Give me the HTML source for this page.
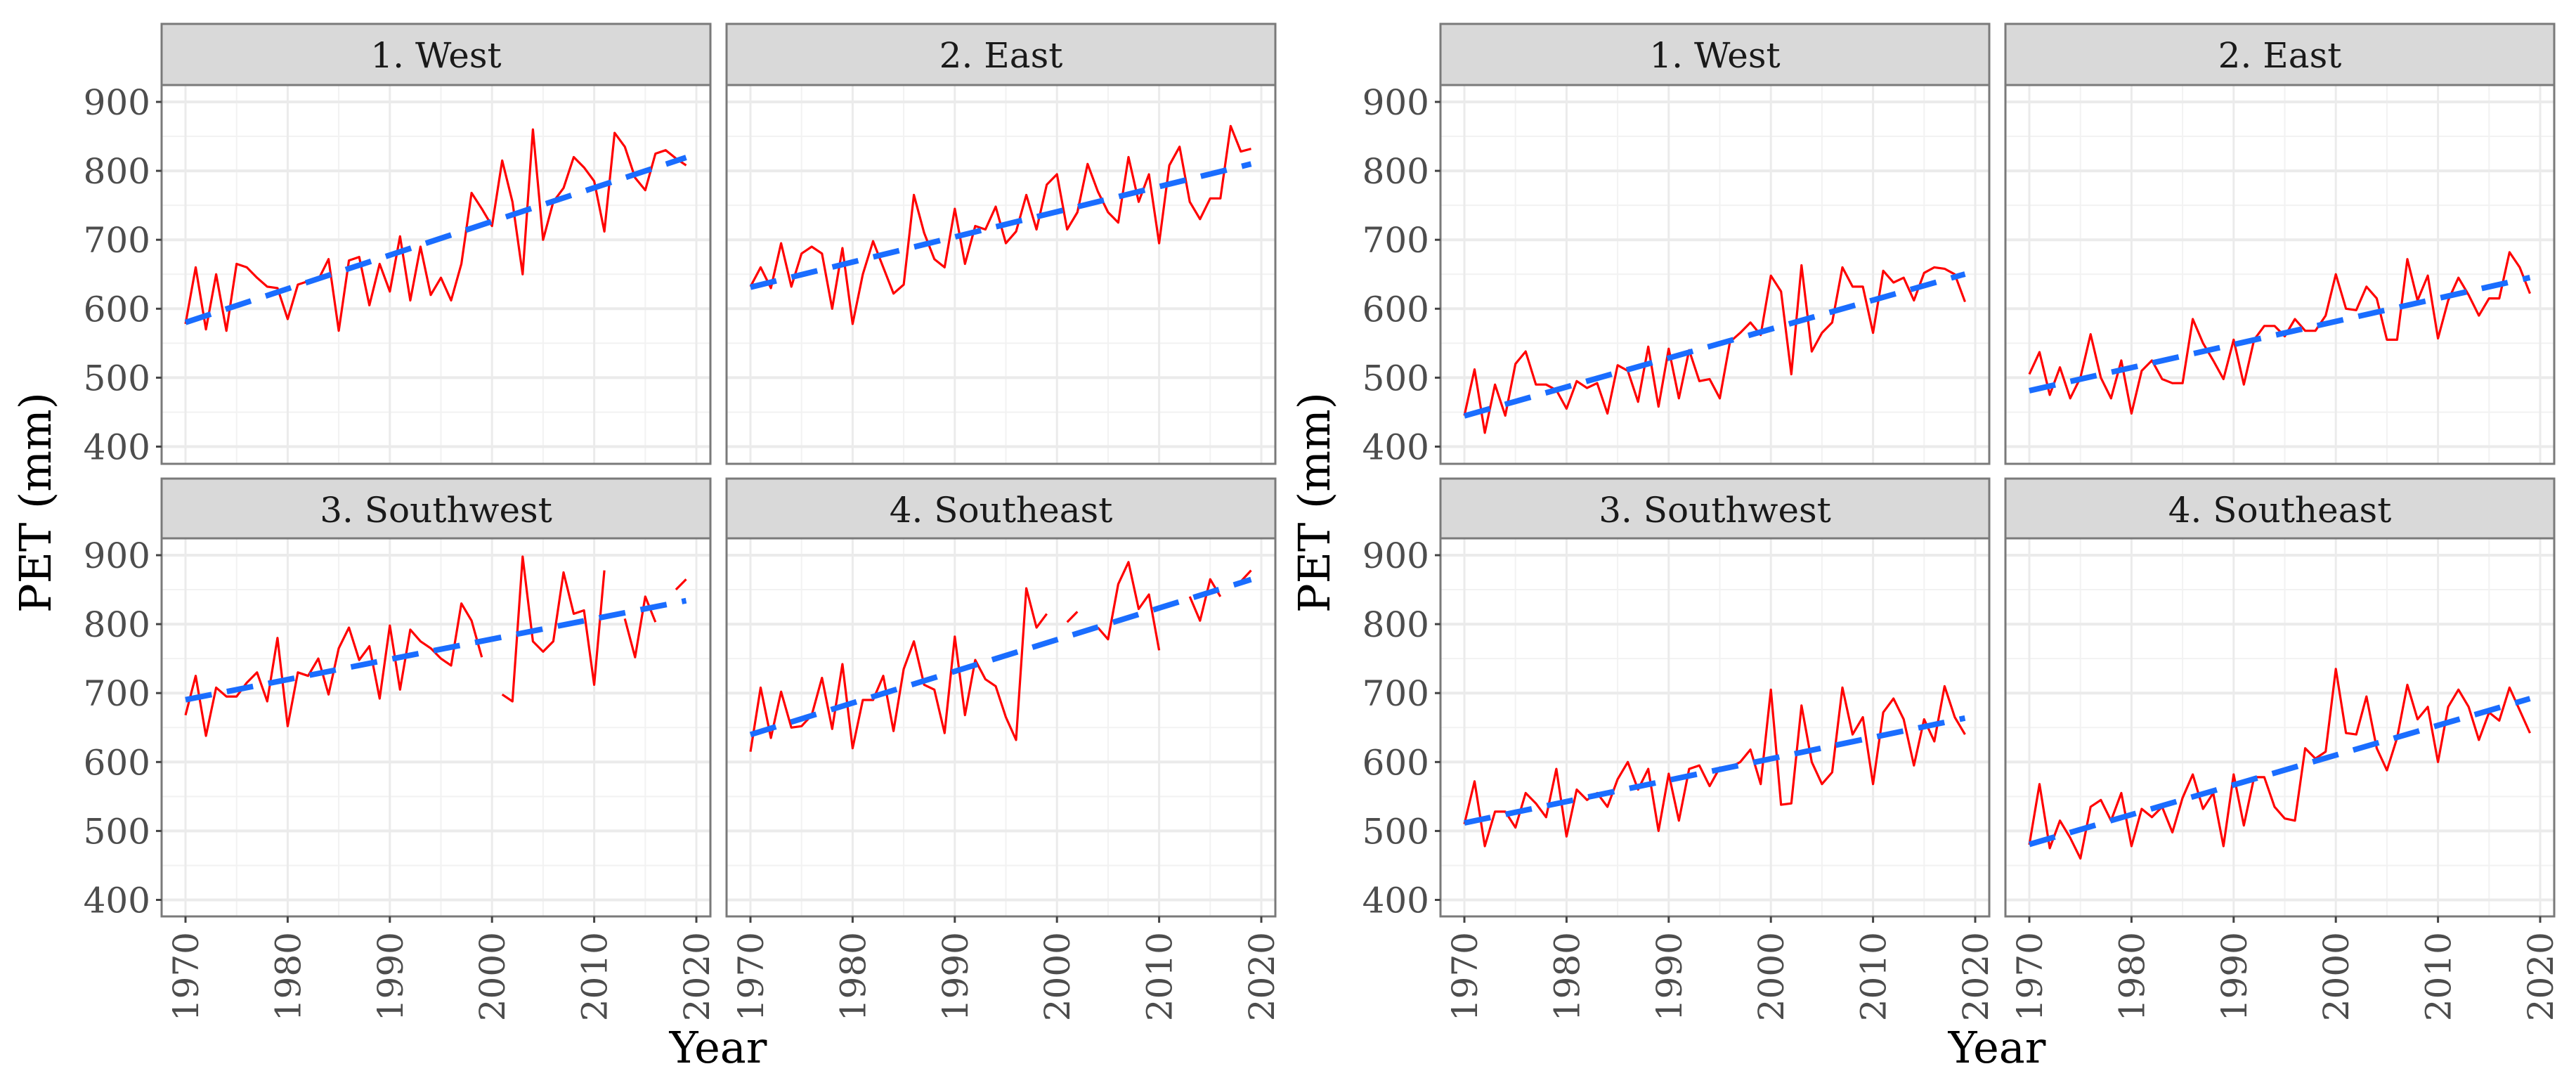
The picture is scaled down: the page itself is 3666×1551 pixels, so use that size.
<!DOCTYPE html>
<html><head><meta charset="utf-8"><style>
html,body{margin:0;padding:0;background:#fff;}
svg{display:block;}
text{font-family:"DejaVu Serif","Liberation Serif",serif;}
</style></head>
<body>
<svg id="chart" width="3666" height="1551" viewBox="0 0 3666 1551" xmlns="http://www.w3.org/2000/svg"></svg>
<script>
const years = [];
for (let y = 1970; y <= 2019; y++) years.push(y);
const xTicks = [1970, 1980, 1990, 2000, 2010, 2020];
const yTicks = [400, 500, 600, 700, 800, 900];
const panelTitles = ["1. West", "2. East", "3. Southwest", "4. Southeast"];
const westL = [578,660,570,650,568,665,660,645,632,630,585,635,640,642,672,568,670,675,605,665,625,705,612,690,620,645,612,665,768,745,720,815,755,650,860,700,755,775,820,805,785,712,855,835,790,772,825,830,818,808];
const eastL = [632,660,630,695,632,680,690,680,600,688,578,650,698,660,622,635,765,710,672,660,745,665,720,715,748,695,712,765,715,780,795,715,740,810,770,740,725,820,755,795,695,808,835,755,730,760,760,865,828,832];
const swL = [668,725,638,708,695,695,715,730,688,780,652,730,725,750,698,765,795,748,768,692,798,705,792,775,765,750,740,830,805,752,null,698,688,898,775,760,775,875,815,820,712,878,null,808,752,840,803,null,850,865];
const seL = [615,708,635,702,650,652,668,722,648,742,620,690,690,725,645,735,775,712,705,642,782,668,748,720,710,665,632,852,795,815,null,803,818,null,795,778,858,890,822,843,762,null,null,840,805,865,840,null,862,878];
const westR = [445,512,420,490,445,520,538,490,490,482,455,495,485,492,448,518,510,465,545,458,542,470,540,495,498,470,552,565,580,562,648,625,505,663,538,565,580,660,632,632,565,655,638,645,612,652,660,658,650,610];
const eastR = [505,537,475,515,470,500,563,500,470,525,448,510,525,498,492,492,585,550,525,498,555,490,555,575,575,560,585,568,568,590,650,600,598,632,615,555,555,672,612,648,557,612,645,620,590,615,615,682,660,622];
const swR = [510,572,478,528,528,505,555,540,520,590,492,560,545,555,535,575,600,560,590,500,583,515,590,595,565,592,592,600,618,568,705,538,540,682,600,568,585,708,640,665,568,672,692,662,595,662,630,710,665,640];
const seR = [480,568,475,515,490,460,535,545,515,555,478,532,520,535,498,548,582,532,555,478,582,508,578,578,535,518,515,620,605,615,735,642,640,695,620,588,635,712,662,680,600,680,705,680,632,672,660,708,675,642];
const seriesL = [westL, eastL, swL, seL];
const seriesR = [westR, eastR, swR, seR];

const NS = "http://www.w3.org/2000/svg";
const svg = document.getElementById("chart");
function mk(tag, attrs, parent, txt) {
  const e = document.createElementNS(NS, tag);
  for (const k in attrs) e.setAttribute(k, attrs[k]);
  if (txt !== undefined) e.textContent = txt;
  (parent || svg).appendChild(e);
  return e;
}
const colLeft = [230, 1034], colW = 781;
const stripTop = [34, 681], panelTop = [121, 766], panelBot = [660, 1304];
function xS(fx, col, yr) { return fx + colLeft[col] + 34 + (yr - 1970) * 14.54; }
function yS(row, v) { return panelTop[row] + 24 + (900 - v) * 0.981; }

function drawFigure(fx, series, side) {
  const g = mk("g", {});
  
  
  for (let p = 0; p < 4; p++) {
    const col = p % 2, row = Math.floor(p / 2);
    const L = fx + colLeft[col], R = L + colW, T = panelTop[row], B = panelBot[row];
    const pg = mk("g", {}, g);
    
    
    // strip
    const st = mk("rect", {x: L, y: stripTop[row], width: colW, height: T - stripTop[row], fill: "#d9d9d9", stroke: "#7a7a7a", "stroke-width": 3}, pg);
    
    
    const stt = mk("text", {x: L + colW / 2, y: stripTop[row] + 62, "font-size": 50, fill: "#1a1a1a", "text-anchor": "middle"}, pg, panelTitles[p]);
    
    
    mk("rect", {x: L, y: T, width: colW, height: B - T, fill: "#fff"}, pg);
    // minor grid
    for (let v = 350; v <= 950; v += 100) { const yy = yS(row, v); if (yy > T && yy < B) mk("line", {x1: L, x2: R, y1: yy, y2: yy, stroke: "#f2f2f2", "stroke-width": 2}, pg); }
    for (let yr = 1965; yr <= 2025; yr += 10) { const xx = xS(fx, col, yr); if (xx > L && xx < R) mk("line", {x1: xx, x2: xx, y1: T, y2: B, stroke: "#f2f2f2", "stroke-width": 2}, pg); }
    for (const v of yTicks) { const yy = yS(row, v); mk("line", {x1: L, x2: R, y1: yy, y2: yy, stroke: "#ebebeb", "stroke-width": 4}, pg); }
    for (const yr of xTicks) { const xx = xS(fx, col, yr); mk("line", {x1: xx, x2: xx, y1: T, y2: B, stroke: "#ebebeb", "stroke-width": 3}, pg); }
    // data line
    const data = series[p];
    let d = "", pen = false;
    data.forEach((v, i) => {
      if (v === null) { pen = false; return; }
      d += (pen ? "L" : "M") + xS(fx, col, years[i]).toFixed(1) + "," + yS(row, v).toFixed(1);
      pen = true;
    });
    const ln = mk("path", {d: d, fill: "none", stroke: "#ff0000", "stroke-width": 3.2, "stroke-linejoin": "round"}, pg);
    
    
    // trend (linear regression)
    let n = 0, sx = 0, sy = 0, sxx = 0, sxy = 0;
    data.forEach((v, i) => { if (v !== null) { n++; sx += years[i]; sy += v; sxx += years[i] * years[i]; sxy += years[i] * v; } });
    const b = (n * sxy - sx * sy) / (n * sxx - sx * sx), a = (sy - b * sx) / n;
    const y0 = years[0], y1 = years[years.length - 1];
    const tr = mk("line", {x1: xS(fx, col, y0), y1: yS(row, a + b * y0), x2: xS(fx, col, y1), y2: yS(row, a + b * y1), stroke: "#1a6dff", "stroke-width": 8, "stroke-dasharray": "38,22"}, pg);
    
    
    // border
    mk("rect", {x: L, y: T, width: colW, height: B - T, fill: "none", stroke: "#7a7a7a", "stroke-width": 3}, pg);
    // y axis
    if (col === 0) {
      for (const v of yTicks) {
        const yy = yS(row, v);
        mk("line", {x1: L - 8, x2: L, y1: yy, y2: yy, stroke: "#444", "stroke-width": 3}, pg);
        const t = mk("text", {x: L - 16, y: yy + 18, "font-size": 50, fill: "#4d4d4d", "text-anchor": "end"}, pg, String(v));
        
        
      }
    }
    // x axis
    if (row === 1) {
      for (const yr of xTicks) {
        const xx = xS(fx, col, yr);
        mk("line", {x1: xx, x2: xx, y1: B, y2: B + 9, stroke: "#444", "stroke-width": 3}, pg);
        const t = mk("text", {x: 0, y: 0, "font-size": 50, fill: "#4d4d4d", "text-anchor": "end", transform: "translate(" + (xx + 18) + "," + (B + 22) + ") rotate(-90)"}, pg, String(yr));
        
        
      }
    }
  }
  const yt = mk("text", {x: 0, y: 0, "font-size": 62, fill: "#000", "text-anchor": "middle", transform: "translate(" + (fx + 72) + ",715) rotate(-90)"}, g, "PET (mm)");
  
  
  const xt = mk("text", {x: fx + 1022, y: 1512, "font-size": 62, fill: "#000", "text-anchor": "middle"}, g, "Year");
  
  
}
drawFigure(0, seriesL, 'left');
drawFigure(1820, seriesR, 'right');
</script>
</body></html>
